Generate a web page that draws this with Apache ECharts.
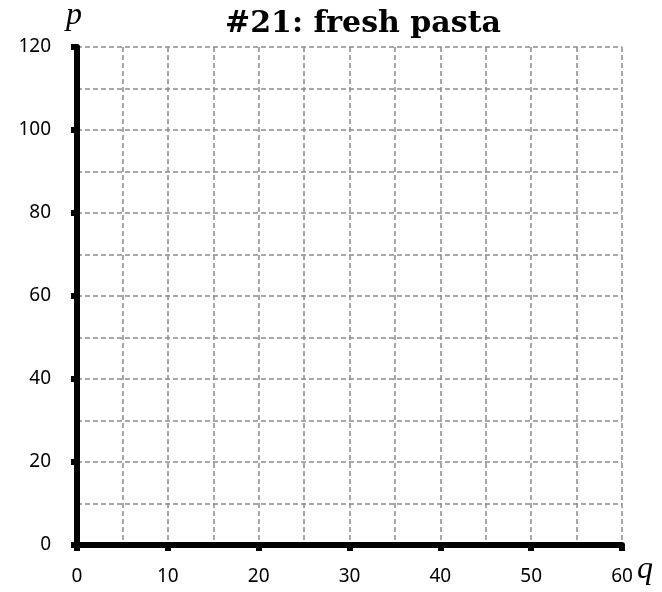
<!DOCTYPE html>
<html>
<head>
<meta charset="utf-8">
<script src="https://cdn.jsdelivr.net/npm/echarts@6/dist/echarts.min.js"></script>
<style>
  html, body { margin: 0; padding: 0; background: #fff; }
  #chart { width: 662px; height: 592px; }
</style>
</head>
<body>
<div id="chart"></div>
<script>
// axis ranges
var qRange = [0, 60];
var pRange = [0, 120];
var qStep = 10;
var pStep = 20;
var titleText = '#21: fresh pasta';

var chart = echarts.init(document.getElementById('chart'));

var dashed = { show: true, lineStyle: { color: '#8c8c8c', width: 1.5, type: [5, 3] } };

chart.setOption({
  animation: false,
  title: {
    text: titleText,
    left: 220, top: 4,
    textStyle: { fontFamily: 'DejaVu Serif', fontWeight: 'bold', fontSize: 30, color: '#000' }
  },
  graphic: [
    { type: 'text', left: 66, top: 0,
      style: { text: 'p', font: 'italic 32px "Liberation Serif"', fill: '#000' } },
    { type: 'text', left: 637, top: 554,
      style: { text: 'q', font: 'italic 32px "Liberation Serif"', fill: '#000' } }
  ],
  grid: { left: 77, right: 40, top: 47, bottom: 47 },
  xAxis: {
    type: 'value', min: qRange[0], max: qRange[1], interval: qStep,
    axisLine: { show: true, onZero: false, lineStyle: { color: '#000', width: 6 } },
    axisTick: { show: true, length: 6, lineStyle: { color: '#000', width: 6 } },
    axisLabel: { margin: 22, fontFamily: 'Noto Sans', fontSize: 19, color: '#000' },
    splitLine: dashed,
    minorTick: { show: false, splitNumber: 2 },
    minorSplitLine: dashed
  },
  yAxis: {
    type: 'value', min: pRange[0], max: pRange[1], interval: pStep,
    axisLine: { show: true, onZero: false, lineStyle: { color: '#000', width: 6 } },
    axisTick: { show: true, length: 6, lineStyle: { color: '#000', width: 6 } },
    axisLabel: { margin: 26, fontFamily: 'Noto Sans', fontSize: 19, color: '#000' },
    splitLine: dashed,
    minorTick: { show: false, splitNumber: 2 },
    minorSplitLine: dashed
  },
  series: []
});
</script>
</body>
</html>
